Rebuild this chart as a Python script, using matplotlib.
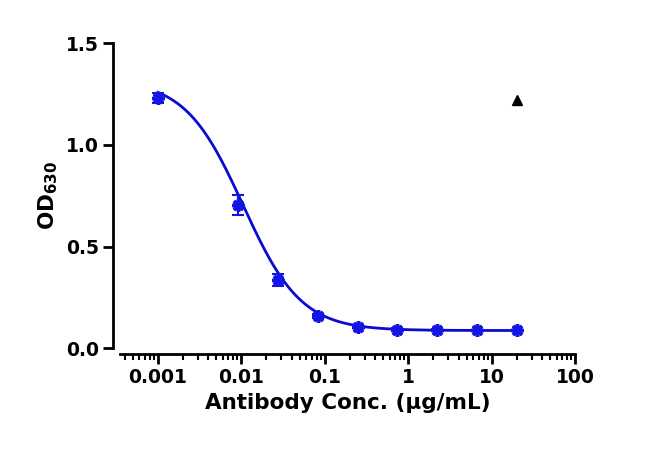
import numpy as np
import matplotlib
matplotlib.use('Agg')
import matplotlib.pyplot as plt
from matplotlib.ticker import LogLocator, FixedLocator

# data
conc = [0.001, 0.00914, 0.0274, 0.0823, 0.247, 0.741, 2.22, 6.67, 20.0]
od = [1.23, 0.705, 0.335, 0.16, 0.105, 0.092, 0.089, 0.088, 0.088]
err = [0.025, 0.05, 0.03, 0.01, 0.008, 0.005, 0.004, 0.004, 0.004]
ctrl_x = [20.0]
ctrl_y = [1.22]
xticks = [0.001, 0.01, 0.1, 1, 10, 100]
xtick_labels = ['0.001', '0.01', '0.1', '1', '10', '100']

# 4PL fit parameters (estimated)
top, bottom, ec50, hill = 1.32, 0.087, 0.0105, 1.25

fig = plt.figure(figsize=(6.5, 4.54), dpi=100)
ax = fig.add_axes([0.185, 0.233, 0.70, 0.672])

xs = np.logspace(-3, np.log10(20), 300)
ys = bottom + (top - bottom) / (1 + (xs / ec50) ** hill)
ax.plot(xs, ys, color='#0a0ad0', lw=2)
ax.errorbar(conc, od, yerr=err, fmt='none', ecolor='#1414e6',
            capsize=4, elinewidth=1.5, capthick=1.5)
ax.plot(conc, od, ls='none', marker=(8, 2, 0), color='#1414e6', ms=9, mew=2.5)
ax.plot(ctrl_x, ctrl_y, '^', color='black', ms=7)

ax.set_xscale('log')
ax.set_xlim(10 ** -3.45, 100)
ax.set_ylim(0, 1.5)
ax.xaxis.set_major_locator(FixedLocator(xticks))
ax.set_xticklabels(xtick_labels)
ax.xaxis.set_minor_locator(LogLocator(base=10, subs=np.arange(2, 10)))
ax.set_yticks([0, 0.5, 1.0, 1.5])
ax.set_yticklabels(['0.0', '0.5', '1.0', '1.5'])

for s in ['top', 'right']:
    ax.spines[s].set_visible(False)
ax.spines['left'].set_position(('outward', 5))
ax.spines['bottom'].set_position(('outward', 4))
for s in ['left', 'bottom']:
    ax.spines[s].set_linewidth(2)
ax.tick_params(which='major', width=2, length=7, labelsize=13.5)
ax.tick_params(which='minor', width=1.5, length=4)
for lab in ax.get_xticklabels() + ax.get_yticklabels():
    lab.set_fontweight('bold')

ax.set_xlabel('Antibody Conc. (µg/mL)', fontsize=15.5, fontweight='bold')
ax.set_ylabel('OD$_{\\mathbf{630}}$', fontsize=15.5, fontweight='bold')

fig.savefig('out.png', dpi=100)
